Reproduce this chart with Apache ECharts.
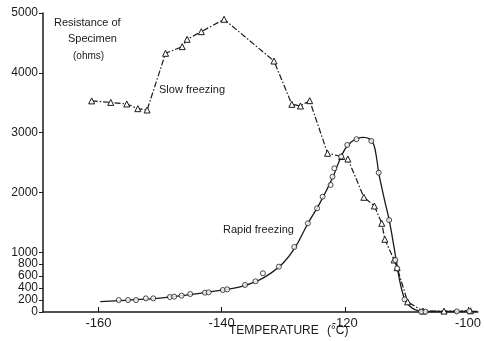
<!DOCTYPE html>
<html>
<head>
<meta charset="utf-8">
<script src="https://cdn.jsdelivr.net/npm/echarts@6/dist/echarts.min.js"></script>
<style>
  html, body { margin: 0; padding: 0; background: #fff; }
  #chart { width: 484px; height: 341px; }
</style>
</head>
<body>
<div id="chart"></div>
<script>
// temperature (°C) / resistance (ohms)
const xTicks = [-160, -140, -120, -100];
const yTicks = [0, 200, 400, 600, 800, 1000, 2000, 3000, 4000, 5000];

// slow freezing: triangles joined by a dash-dot line
const slowTemp = [-161.1, -158.0, -155.4, -153.6, -152.1, -149.1, -146.4, -145.6, -143.3, -139.6,
  -131.5, -128.6, -127.2, -125.7, -122.8, -120.5, -119.5, -116.9, -115.2, -114.0, -113.5,
  -112.0, -111.5, -109.8, -107.3, -103.9, -99.6];
const slowOhms = [3530, 3505, 3478, 3400, 3378, 4326, 4437, 4560, 4688, 4895,
  4197, 3473, 3445, 3534, 2654, 2600, 2558, 1918, 1773, 1483, 1216,
  870, 740, 170, 15, 15, 20];

// rapid freezing: measured points (circles)
const rapidTemp = [-156.7, -155.2, -153.9, -152.3, -151.1, -148.4, -147.7, -146.5, -145.1, -142.7,
  -142.1, -139.8, -139.1, -136.2, -134.5, -133.3, -130.7, -128.2, -126.0, -124.5, -123.6,
  -122.3, -122.0, -121.7, -120.6, -119.6, -118.1, -115.7, -114.5, -112.8, -111.8, -111.5,
  -110.3, -107.6, -106.9, -101.8, -99.8];
const rapidOhms = [200, 200, 200, 228, 228, 250, 257, 273, 300, 323,
  329, 368, 379, 452, 513, 647, 758, 1087, 1483, 1734, 1928,
  2124, 2262, 2403, 2600, 2793, 2890, 2860, 2329, 1538, 870, 730,
  212, 5, 5, 10, 15];

// rapid freezing: hand-drawn fitted curve
const curveTemp = [-159.7, -155, -150, -145, -140, -137, -134, -132, -130, -128, -126, -124,
  -122, -121, -120, -119, -118, -117, -116, -115.3, -114.8, -114.5, -113.5, -112.8, -112,
  -111.5, -111, -110.5, -110, -109, -108, -107, -104, -98.5];
const curveOhms = [172, 200, 232, 290, 365, 420, 530, 650, 820, 1090, 1480, 1830,
  2240, 2500, 2720, 2840, 2900, 2920, 2895, 2800, 2550, 2330, 1850, 1540, 1080,
  760, 480, 280, 160, 60, 20, 8, 8, 12];

const zip = (xs, ys) => xs.map((x, i) => [x, ys[i]]);

const ink = '#1a1a1a';
const font = 'Liberation Sans';

const myChart = echarts.init(document.getElementById('chart'));

const option = {
  backgroundColor: '#fff',
  animation: false,
  textStyle: { fontFamily: font, color: ink },
  grid: { left: 43, right: 0, top: 13, bottom: 29 },
  xAxis: {
    type: 'value',
    min: -169,
    max: -98.4,
    axisLine: { lineStyle: { color: ink, width: 1.5 } },
    axisTick: { inside: true, length: 5, customValues: xTicks, lineStyle: { color: ink } },
    axisLabel: {
      customValues: xTicks, margin: 5, fontSize: 13, color: ink, fontFamily: font,
      formatter: (v) => String(v),
    },
    splitLine: { show: false },
  },
  yAxis: {
    type: 'value',
    min: 0,
    max: 5000,
    axisLine: { show: true, lineStyle: { color: ink, width: 1.5 } },
    axisTick: { show: true, length: 4, customValues: yTicks, lineStyle: { color: ink } },
    axisLabel: {
      customValues: yTicks, margin: 5, fontSize: 12, color: ink, fontFamily: font,
      formatter: (v) => String(v),
    },
    splitLine: { show: false },
  },
  graphic: [
    { type: 'text', left: 54, top: 17, style: { text: 'Resistance of', font: '11px ' + font, fill: ink } },
    { type: 'text', left: 68, top: 33, style: { text: 'Specimen', font: '11px ' + font, fill: ink } },
    { type: 'text', left: 73, top: 51, style: { text: '(ohms)', font: '10px ' + font, fill: ink } },
    { type: 'text', left: 159, top: 84, style: { text: 'Slow freezing', font: '11px ' + font, fill: ink } },
    { type: 'text', left: 223, top: 224, style: { text: 'Rapid freezing', font: '11px ' + font, fill: ink } },
    { type: 'text', left: 229, top: 325, style: { text: 'TEMPERATURE', font: '12px ' + font, fill: ink } },
    { type: 'text', left: 327, top: 325, style: { text: '(°C)', font: '12px ' + font, fill: ink } },
  ],
  series: [
    {
      name: 'Slow freezing',
      type: 'line',
      data: zip(slowTemp, slowOhms),
      symbol: 'triangle',
      symbolSize: 6,
      itemStyle: { color: '#fff', borderColor: ink, borderWidth: 1 },
      lineStyle: { color: ink, width: 1.2, type: [6, 2, 1.5, 2] },
      z: 3,
    },
    {
      name: 'Rapid freezing curve',
      type: 'line',
      data: zip(curveTemp, curveOhms),
      smooth: 0.4,
      showSymbol: false,
      lineStyle: { color: ink, width: 1.3 },
      z: 2,
    },
    {
      name: 'Rapid freezing',
      type: 'scatter',
      data: zip(rapidTemp, rapidOhms),
      symbol: 'circle',
      symbolSize: 5,
      itemStyle: { color: '#fff', borderColor: ink, borderWidth: 1 },
      z: 4,
    },
  ],
};

myChart.setOption(option);
</script>
</body>
</html>
